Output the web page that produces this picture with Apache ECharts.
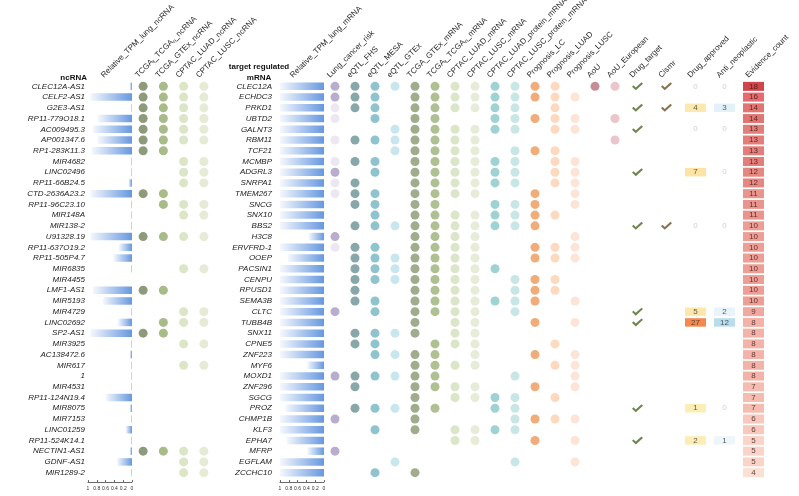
<!DOCTYPE html>
<html>
<head>
<meta charset="utf-8">
<script src="https://cdn.jsdelivr.net/npm/echarts@6/dist/echarts.min.js"></script>
<style>
  html, body { margin: 0; padding: 0; background: #fff; }
  #chart { width: 799px; height: 496px; }
</style>
</head>
<body>
<div id="chart"></div>
<script>
// ---- data ----
var ncNames = ['CLEC12A-AS1', 'CELF2-AS1', 'G2E3-AS1', 'RP11-779O18.1', 'AC009495.3', 'AP001347.6', 'RP1-283K11.3',
  'MIR4682', 'LINC02496', 'RP11-66B24.5', 'CTD-2636A23.2', 'RP11-96C23.10', 'MIR148A', 'MIR138-2', 'U91328.19',
  'RP11-637O19.2', 'RP11-505P4.7', 'MIR6835', 'MIR4455', 'LMF1-AS1', 'MIR5193', 'MIR4729', 'LINC02692', 'SP2-AS1',
  'MIR3925', 'AC138472.6', 'MIR617', '1', 'MIR4531', 'RP11-124N19.4', 'MIR8075', 'MIR7153', 'LINC01259',
  'RP11-524K14.1', 'NECTIN1-AS1', 'GDNF-AS1', 'MIR1289-2'];
var ncTPM = [0.05, 0.95, 0.02, 0.78, 0.89, 0.78, 0.92, 0.02, 0.02, 0.08, 0.95, 0.02, 0.02, 0.02, 0.95,
  0.3, 0.42, 0.02, 0, 0.89, 0.66, 0.02, 0.32, 0.95, 0.02, 0.05, 0.02, 0.02, 0.02, 0.6, 0.05, 0.02, 0.14,
  0.02, 0.05, 0.34, 0.02];
var ncTcgaT = [1,1,1,1,1,1,1,0,0,0,1,0,0,0,1,0,0,0,0,1,0,0,0,1,0,0,0,0,0,0,0,0,0,0,1,0,0];
var ncGtex  = [1,1,1,1,1,1,1,0,0,0,1,1,0,0,1,0,0,0,0,1,0,0,1,1,0,0,0,0,0,0,0,0,0,0,1,0,0];
var ncLuad  = [1,1,1,1,1,1,0,1,1,1,0,1,1,0,1,0,0,1,0,0,0,1,1,0,1,0,1,0,0,0,0,0,0,0,1,1,1];
var ncLusc  = [1,1,1,1,1,1,0,1,1,1,0,1,1,0,1,0,0,1,0,0,0,1,1,0,1,0,1,0,0,0,0,0,0,0,1,1,1];

var mNames = ['CLEC12A', 'ECHDC3', 'PRKD1', 'UBTD2', 'GALNT3', 'RBM11', 'TCF21', 'MCMBP', 'ADGRL3', 'SNRPA1',
  'TMEM267', 'SNCG', 'SNX10', 'BBS2', 'H3C8', 'ERVFRD-1', 'OOEP', 'PACSIN1', 'CENPU', 'RPUSD1', 'SEMA3B', 'CLTC',
  'TUBB4B', 'SNX11', 'CPNE5', 'ZNF223', 'MYF6', 'MOXD1', 'ZNF296', 'SGCG', 'PROZ', 'CHMP1B', 'KLF3', 'EPHA7',
  'MFRP', 'EGFLAM', 'ZCCHC10'];
var mTPM = [1,1,1,1,1,1,1,1,1,1,1,1,1,1,0.35,1,0.82,1,1,1,1,1,1,1,1,1,0.38,1,1,1,0.88,1,1,0.85,0.38,1,1];
// lung cancer risk: 2 = strong, 1 = weak
var lungRisk  = [2,2,1,1,0,1,0,1,2,1,1,0,0,0,2,1,0,0,0,0,0,2,0,0,0,0,0,2,0,0,0,2,0,0,2,0,0];
var eqtlFhs   = [1,1,1,0,0,1,0,1,0,1,1,1,0,1,0,1,1,1,1,1,1,0,0,1,1,0,0,1,1,0,1,0,0,0,0,0,0];
var eqtlMesa  = [1,1,1,1,0,1,0,1,1,0,1,1,1,1,0,1,1,1,1,0,1,1,0,1,1,1,0,1,0,0,1,0,1,0,0,0,1];
var eqtlGtex  = [1,0,0,0,1,1,1,0,0,0,0,0,0,1,0,0,1,1,1,0,0,0,0,1,0,1,0,1,0,0,1,0,0,0,0,1,0];
var mTcgaGtex = [1,1,1,1,1,1,1,1,1,1,1,1,1,1,1,1,1,1,1,1,1,1,1,1,0,1,1,1,1,1,1,1,1,0,0,0,1];
var mTcgaT    = [1,1,1,1,1,1,1,1,1,1,1,1,1,1,1,1,1,1,1,1,1,1,0,0,1,1,1,1,1,0,1,0,0,0,0,0,0];
var mLuad     = [1,1,1,0,1,1,1,1,1,1,1,0,1,1,1,1,1,1,1,1,1,1,1,1,1,0,1,0,1,1,0,0,1,1,0,0,0];
var mLusc     = [1,1,1,0,1,1,1,1,1,1,1,0,1,1,1,1,1,1,1,1,1,1,1,1,1,1,1,0,1,1,0,0,1,1,0,0,0];
var protLuad  = [1,1,1,1,1,0,0,1,1,1,0,1,1,1,0,0,0,1,0,0,1,0,0,0,0,0,0,0,0,1,1,0,1,0,0,0,0];
var protLusc  = [1,1,1,1,1,0,1,1,1,1,0,1,1,1,0,0,0,0,1,1,1,1,0,0,0,0,0,1,0,1,1,1,1,0,0,1,0];
var progLc    = [1,1,0,1,0,0,1,0,0,0,1,1,1,1,0,1,1,0,1,1,1,0,1,0,0,1,0,0,1,0,0,1,0,1,0,0,0];
var progLuad  = [1,1,1,1,1,0,1,1,1,1,0,0,1,0,0,1,1,0,1,1,0,0,0,0,1,0,1,0,0,1,0,1,0,0,0,0,0];
var progLusc  = [0,1,0,1,1,0,0,1,1,1,1,1,0,0,1,1,1,0,0,0,1,0,1,0,0,1,1,1,1,0,0,1,0,1,0,1,0];
var aou       = [1,0,0,0,0,0,0,0,0,0,0,0,0,0,0,0,0,0,0,0,0,0,0,0,0,0,0,0,0,0,0,0,0,0,0,0,0];
var aouEur    = [1,0,0,1,0,1,0,0,0,0,0,0,0,0,0,0,0,0,0,0,0,0,0,0,0,0,0,0,0,0,0,0,0,0,0,0,0];

var drugTarget = [1,0,1,0,1,0,0,0,1,0,0,0,0,1,0,0,0,0,0,0,0,1,1,0,0,0,0,0,0,0,1,0,0,1,0,0,0];
var cismr      = [1,0,1,0,0,0,0,0,0,0,0,0,0,1,0,0,0,0,0,0,0,0,0,0,0,0,0,0,0,0,0,0,0,0,0,0,0];
var drugApproved = [0,null,4,null,0,null,null,null,7,null,null,null,null,0,null,null,null,null,null,null,null,
  5,27,null,null,null,null,null,null,null,1,null,null,2,null,null,null];
var antiNeoplastic = [0,null,3,null,0,null,null,null,0,null,null,null,null,0,null,null,null,null,null,null,null,
  2,12,null,null,null,null,null,null,null,0,null,null,1,null,null,null];
var evidenceCount = [18,16,14,14,13,13,13,13,12,12,11,11,11,10,10,10,10,10,10,10,10,9,8,8,8,8,8,8,7,7,7,6,6,5,5,5,4];

var ncBarHeader = ['Relative_TPM_lung_ncRNA'];
var ncDotCols = ['TCGA_t_TCGA_n_ncRNA', 'TCGA_GTEx_ncRNA', 'CPTAC_LUAD_ncRNA', 'CPTAC_LUSC_ncRNA'];
var mBarHeader = ['Relative_TPM_lung_mRNA'];
var mDotCols = ['Lung_cancer_risk', 'eQTL_FHS', 'eQTL_MESA', 'eQTL_GTEx', 'TCGA_GTEx_mRNA', 'TCGA_t_TCGA_n_mRNA',
  'CPTAC_LUAD_mRNA', 'CPTAC_LUSC_mRNA', 'CPTAC_LUAD_protein_mRNA', 'CPTAC_LUSC_protein_mRNA', 'Prognosis_LC',
  'Prognosis_LUAD', 'Prognosis_LUSC', 'AoU', 'AoU_European'];
var drugCols = ['Drug_target', 'Cismr', 'Drug_approved', 'Anti_neoplastic', 'Evidence_count'];
var barTickLabels = ['0', '0.2', '0.4', '0.6', '0.8', '1'];

// ---- layout ----
var FONT = '"Liberation Sans", Arial, sans-serif';
var TOP = 81, H = 397;
var CHECK = 'path://M0,5.2 L1.7,3.5 L4.3,6.1 L10.8,0 L12.5,1.7 L4.3,9.5 Z';

function grid(left, width) {
  return {left: left, width: width, top: TOP, height: H, containLabel: false, outerBoundsMode: 'none'};
}

var grids = [
  grid(88, 44),    // 0 ncRNA bars
  grid(133, 81),   // 1 ncRNA dots
  grid(280, 44),   // 2 mRNA bars
  grid(325, 300),  // 3 mRNA dots
  grid(623, 145),  // 4 drug / evidence
  grid(84, 44),    // 5..9 header labels, nudged left
  grid(130, 81),
  grid(273, 44),
  grid(322, 300),
  grid(620, 145)
];

function headerLabel(v) {
  var m = v.match(/^TCGA_t_TCGA_n_(.*)$/);
  if (m) return '{a|TCGA}{s|t}{a|_TCGA}{s|n}{a|_' + m[1] + '}';
  return '{a|' + v + '}';
}

var xAxes = [], yAxes = [];
function barAxes(gi, names, margin) {
  xAxes.push({
    gridIndex: gi, type: 'value', min: 0, max: 1, interval: 0.2, inverse: true, position: 'bottom', offset: 4,
    axisLine: {show: true, lineStyle: {color: '#444', width: 0.8}},
    axisTick: {show: true, inside: true, length: 2, lineStyle: {color: '#444', width: 0.8}},
    axisLabel: {fontSize: 5, margin: 4, color: '#333', formatter: function(v) { return barTickLabels[Math.round(v * 5)]; }},
    splitLine: {show: false}
  });
  yAxes.push({
    gridIndex: gi, type: 'category', data: names, inverse: true,
    axisLine: {show: false}, axisTick: {show: false},
    axisLabel: {interval: 0, margin: margin, fontSize: 8, fontStyle: 'italic', color: '#222', fontFamily: FONT}
  });
}
function dotAxes(gi, cols, names) {
  xAxes.push({gridIndex: gi, type: 'category', data: cols, show: false});
  yAxes.push({gridIndex: gi, type: 'category', data: names, inverse: true, show: false});
}
function headerAxes(gi, cols) {
  xAxes.push({
    gridIndex: gi, type: 'category', data: cols, position: 'top',
    axisLine: {show: false}, axisTick: {show: false}, splitLine: {show: false},
    axisLabel: {
      interval: 0, rotate: 45, margin: 1, align: 'left', verticalAlign: 'bottom',
      formatter: headerLabel,
      rich: {
        a: {fontSize: 8, color: '#2a2a2a', fontFamily: FONT, lineHeight: 10},
        s: {fontSize: 5.5, color: '#2a2a2a', fontFamily: FONT, lineHeight: 6, verticalAlign: 'bottom'}
      }
    }
  });
  yAxes.push({gridIndex: gi, type: 'value', show: false});
}

barAxes(0, ncNames, 3);
dotAxes(1, ncDotCols, ncNames);
barAxes(2, mNames, 8);
dotAxes(3, mDotCols, mNames);
dotAxes(4, drugCols, mNames);
headerAxes(5, ncBarHeader);
headerAxes(6, ncDotCols);
headerAxes(7, mBarHeader);
headerAxes(8, mDotCols);
headerAxes(9, drugCols);

// ---- series ----
var series = [];
var barGradient = {
  type: 'linear', x: 0, y: 0, x2: 1, y2: 0,
  colorStops: [{offset: 0, color: '#f5f8fd'}, {offset: 1, color: '#6698df'}]
};
function bars(gi, values) {
  series.push({type: 'bar', xAxisIndex: gi, yAxisIndex: gi, data: values, barWidth: 7.5,
    itemStyle: {color: barGradient}, silent: true});
}
function dots(gi, col, flags, color) {
  var data = [];
  flags.forEach(function(f, i) { if (f) data.push([col, i]); });
  series.push({type: 'scatter', xAxisIndex: gi, yAxisIndex: gi, data: data, symbolSize: 9,
    itemStyle: {color: color, opacity: 1}, silent: true});
}

bars(0, ncTPM);
dots(1, 0, ncTcgaT, '#8d9b7a');
dots(1, 1, ncGtex, '#a8bb88');
dots(1, 2, ncLuad, '#dce6c6');
dots(1, 3, ncLusc, '#e5ebd4');

bars(2, mTPM);
var lungRiskColors = {1: '#e8e1ef', 2: '#a898c0'};
var riskData = [];
lungRisk.forEach(function(v, i) {
  if (v) riskData.push({value: [0, i], itemStyle: {color: lungRiskColors[v]}});
});
series.push({type: 'scatter', xAxisIndex: 3, yAxisIndex: 3, data: riskData, symbolSize: 9, silent: true});
dots(3, 1, eqtlFhs, '#88a7a8');
dots(3, 2, eqtlMesa, '#8fc4cf');
dots(3, 3, eqtlGtex, '#c8e6ee');
dots(3, 4, mTcgaGtex, '#a0ac8c');
dots(3, 5, mTcgaT, '#afc193');
dots(3, 6, mLuad, '#dbe5c7');
dots(3, 7, mLusc, '#e6ecd8');
dots(3, 8, protLuad, '#9fd3d3');
dots(3, 9, protLusc, '#c8e6e6');
dots(3, 10, progLc, '#f0ad7a');
dots(3, 11, progLuad, '#fdd9bf');
dots(3, 12, progLusc, '#fde4d6');
dots(3, 13, aou, '#c78d96');
dots(3, 14, aouEur, '#ebc5cb');

function checks(col, flags, color) {
  var data = [];
  flags.forEach(function(f, i) { if (f) data.push([col, i]); });
  series.push({type: 'scatter', xAxisIndex: 4, yAxisIndex: 4, data: data, symbol: CHECK,
    symbolSize: [11, 8], itemStyle: {color: color}, silent: true});
}
checks(0, drugTarget, '#486820');
checks(1, cismr, '#6b4d28');

var visualMaps = [];
function valueBoxes(col, values, size, colors, min, max, textColor) {
  var boxes = [], zeros = [];
  values.forEach(function(v, i) {
    if (v === null) return;
    if (v > 0) boxes.push([col, i, v]); else zeros.push([col, i, v]);
  });
  visualMaps.push({type: 'continuous', show: false, seriesIndex: series.length, dimension: 2,
    min: min, max: max, inRange: {color: colors}});
  series.push({type: 'scatter', xAxisIndex: 4, yAxisIndex: 4, data: boxes, symbol: 'rect', symbolSize: size,
    silent: true,
    label: {show: true, position: 'inside', fontSize: 8, color: textColor, fontFamily: FONT,
      formatter: function(p) { return p.value[2]; }}});
  if (zeros.length) {
    series.push({type: 'scatter', xAxisIndex: 4, yAxisIndex: 4, data: zeros, symbolSize: 1,
      itemStyle: {color: 'rgba(0,0,0,0)'}, silent: true,
      label: {show: true, position: 'inside', fontSize: 8, color: '#c4c4c4', fontFamily: FONT,
        formatter: function(p) { return p.value[2]; }}});
  }
}
valueBoxes(2, drugApproved, [21, 8.5], ['#fdeaa6', '#fdd784', '#fbb964', '#f26b21'], 1, 27, '#333');
valueBoxes(3, antiNeoplastic, [21, 8.5], ['#e8f4fa', '#a6d5e8'], 1, 12, '#333');
valueBoxes(4, evidenceCount, [21, 9],
  ['#fcd8c9', '#f6baab', '#f0a093', '#e8877c', '#e06a62', '#da524f', '#e0454a', '#c5151b'], 4, 18, '#3a1414');

// ---- chart ----
var chart = echarts.init(document.getElementById('chart'), null, {renderer: 'canvas'});
chart.setOption({
  animation: false,
  backgroundColor: '#fff',
  textStyle: {fontFamily: FONT},
  grid: grids,
  xAxis: xAxes,
  yAxis: yAxes,
  visualMap: visualMaps,
  series: series,
  graphic: [
    {type: 'text', x: 87, y: 78, style: {text: 'ncRNA', font: 'bold 8px "Liberation Sans", Arial', fill: '#111',
      align: 'right', verticalAlign: 'middle'}},
    {type: 'text', x: 259, y: 67, style: {text: 'target regulated', font: 'bold 8px "Liberation Sans", Arial',
      fill: '#111', align: 'center', verticalAlign: 'middle'}},
    {type: 'text', x: 259, y: 78, style: {text: 'mRNA', font: 'bold 8px "Liberation Sans", Arial', fill: '#111',
      align: 'center', verticalAlign: 'middle'}}
  ]
});

window.addEventListener('resize', function() {
  chart.resize();
});
</script>
</body>
</html>
